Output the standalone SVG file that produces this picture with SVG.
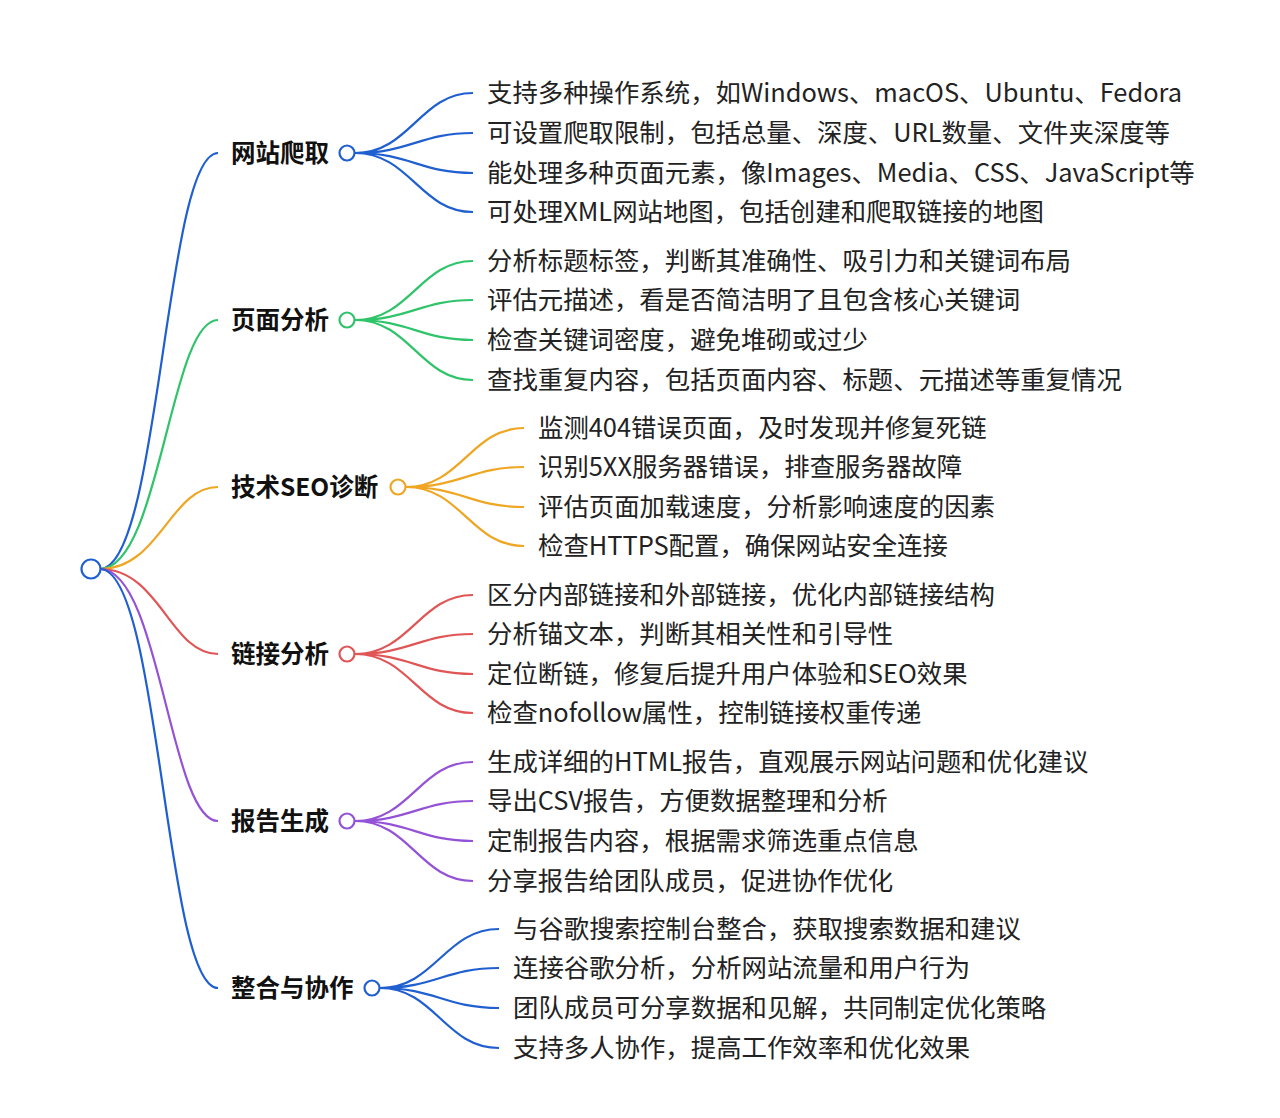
<svg xmlns="http://www.w3.org/2000/svg" width="1280" height="1118" viewBox="0 0 1280 1118">
<style>
.e{fill:none;stroke-width:2.2}
.t{font-family:"Noto Sans CJK SC",sans-serif;font-size:25.4px;fill:#222}
.b{font-family:"Noto Sans CJK SC",sans-serif;font-size:24.5px;font-weight:bold;fill:#111}
.c{fill:#fff;stroke-width:2.2}
.blue{stroke:#1f5fd0}.green{stroke:#2fc36a}.orange{stroke:#eea623}.red{stroke:#e05555}.purple{stroke:#9452d6}
</style>
<rect width="1280" height="1118" fill="#fff"/>
<g id="edges">
<path class="e blue" d="M100 569C160 569 165 153 218 153"/>
<path class="e green" d="M100 569C160 569 170 320 218 320"/>
<path class="e orange" d="M100 569C160 569 170 487 218 487"/>
<path class="e red" d="M100 569C160 569 170 654 218 654"/>
<path class="e purple" d="M100 569C160 569 170 821 218 821"/>
<path class="e blue" d="M100 569C160 569 165 988 218 988"/>
<path class="e blue" d="M355 153C410 153 420 93 473 93M355 153C410 153 420 133 473 133M355 153C410 153 420 173 473 173M355 153C410 153 420 212 473 212"/>
<path class="e green" d="M355 320C410 320 420 261 473 261M355 320C410 320 420 300 473 300M355 320C410 320 420 340 473 340M355 320C410 320 420 380 473 380"/>
<path class="e orange" d="M406 487C461 487 471 428 524 428M406 487C461 487 471 467 524 467M406 487C461 487 471 507 524 507M406 487C461 487 471 546 524 546"/>
<path class="e red" d="M355 654C410 654 420 595 473 595M355 654C410 654 420 634 473 634M355 654C410 654 420 674 473 674M355 654C410 654 420 713 473 713"/>
<path class="e purple" d="M355 821C410 821 420 762 473 762M355 821C410 821 420 801 473 801M355 821C410 821 420 841 473 841M355 821C410 821 420 881 473 881"/>
<path class="e blue" d="M380 988C435 988 445 929 499 929M380 988C435 988 445 968 499 968M380 988C435 988 445 1008 499 1008M380 988C435 988 445 1048 499 1048"/>
</g>
<g id="root"><circle class="c blue" cx="91" cy="569" r="9.5"/></g>
<g id="n1"><text class="b" x="231" y="162">网站爬取</text><circle class="c blue" cx="347" cy="153" r="7.5"/></g>
<g id="n2"><text class="b" x="231" y="329">页面分析</text><circle class="c green" cx="347" cy="320" r="7.5"/></g>
<g id="n3"><text class="b" x="231" y="496">技术SEO诊断</text><circle class="c orange" cx="398" cy="487" r="7.5"/></g>
<g id="n4"><text class="b" x="231" y="663">链接分析</text><circle class="c red" cx="347" cy="654" r="7.5"/></g>
<g id="n5"><text class="b" x="231" y="830">报告生成</text><circle class="c purple" cx="347" cy="821" r="7.5"/></g>
<g id="n6"><text class="b" x="231" y="997">整合与协作</text><circle class="c blue" cx="372" cy="988" r="7.5"/></g>
<g id="leaves1">
<text class="t" x="487" y="102">支持多种操作系统，如Windows、macOS、Ubuntu、Fedora</text>
<text class="t" x="487" y="142">可设置爬取限制，包括总量、深度、URL数量、文件夹深度等</text>
<text class="t" x="487" y="182">能处理多种页面元素，像Images、Media、CSS、JavaScript等</text>
<text class="t" x="487" y="221">可处理XML网站地图，包括创建和爬取链接的地图</text>
</g>
<g id="leaves2">
<text class="t" x="487" y="270">分析标题标签，判断其准确性、吸引力和关键词布局</text>
<text class="t" x="487" y="309">评估元描述，看是否简洁明了且包含核心关键词</text>
<text class="t" x="487" y="349">检查关键词密度，避免堆砌或过少</text>
<text class="t" x="487" y="389">查找重复内容，包括页面内容、标题、元描述等重复情况</text>
</g>
<g id="leaves3">
<text class="t" x="538" y="437">监测404错误页面，及时发现并修复死链</text>
<text class="t" x="538" y="476">识别5XX服务器错误，排查服务器故障</text>
<text class="t" x="538" y="516">评估页面加载速度，分析影响速度的因素</text>
<text class="t" x="538" y="555">检查HTTPS配置，确保网站安全连接</text>
</g>
<g id="leaves4">
<text class="t" x="487" y="604">区分内部链接和外部链接，优化内部链接结构</text>
<text class="t" x="487" y="643">分析锚文本，判断其相关性和引导性</text>
<text class="t" x="487" y="683">定位断链，修复后提升用户体验和SEO效果</text>
<text class="t" x="487" y="722">检查nofollow属性，控制链接权重传递</text>
</g>
<g id="leaves5">
<text class="t" x="487" y="771">生成详细的HTML报告，直观展示网站问题和优化建议</text>
<text class="t" x="487" y="810">导出CSV报告，方便数据整理和分析</text>
<text class="t" x="487" y="850">定制报告内容，根据需求筛选重点信息</text>
<text class="t" x="487" y="890">分享报告给团队成员，促进协作优化</text>
</g>
<g id="leaves6">
<text class="t" x="513" y="938">与谷歌搜索控制台整合，获取搜索数据和建议</text>
<text class="t" x="513" y="977">连接谷歌分析，分析网站流量和用户行为</text>
<text class="t" x="513" y="1017">团队成员可分享数据和见解，共同制定优化策略</text>
<text class="t" x="513" y="1057">支持多人协作，提高工作效率和优化效果</text>
</g>
</svg>
